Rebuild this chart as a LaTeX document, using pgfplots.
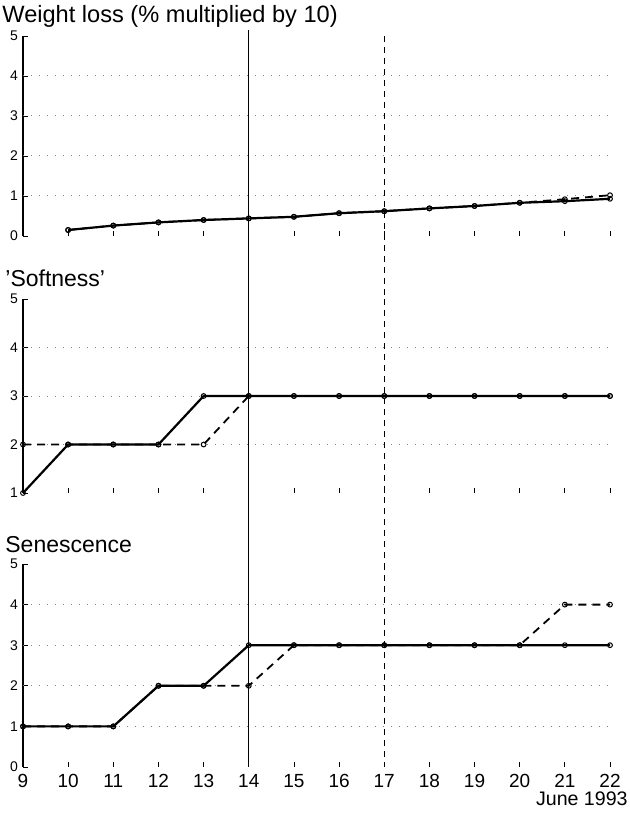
\documentclass[border=0pt]{standalone}
\usepackage{fontspec}
\setmainfont{Liberation Sans}
\usepackage{pgfplots}
\pgfplotsset{compat=1.18}
\pgfplotsset{
  panel/.style={
    scale only axis, width=293.5pt, xmin=9, xmax=22, clip=false,
    axis y line*=left, axis x line*=bottom,
    x axis line style={draw=none},
    y axis line style={line width=0.8pt},
    xtick={9,...,22}, ytick={0,...,5},
    tick align=inside, major tick length=2.5pt,
    tick style={black, line width=0.4pt},
    /pgf/number format/assume math mode=true,
    yticklabel style={font=\fontsize{7}{8}\selectfont, xshift=1pt},
    xticklabel style={font=\fontsize{9.5}{11}\selectfont},
    extra y ticks={1,2,3,4}, extra y tick labels={},
    extra y tick style={grid=major, major grid style={black!50, line width=0.5pt, dash pattern=on 0.6pt off 3.4pt}, major tick length=0pt},
    anchor=north west,
  },
  solidser/.style={black, line width=1.1pt, mark=o, mark size=1.2pt,
    mark options={solid, line width=0.5pt, fill=white}},
  dashser/.style={black, line width=0.9pt, dash pattern=on 4pt off 3pt, mark=o, mark size=1.2pt,
    mark options={solid, line width=0.5pt, fill=white}},
  vsolid/.style={black, line width=0.5pt, no marks},
  vdash/.style={black, line width=0.5pt, dash pattern=on 3pt off 2.5pt, no marks},
}
\begin{document}
\begin{tikzpicture}
\useasboundingbox (0,0) rectangle (315pt,-406.5pt);

% ---------- Weight loss ----------
\begin{axis}[panel, at={(11.5pt,-18pt)}, height=100pt, ymin=0, ymax=5, xticklabels={}]
\addplot[vsolid] coordinates {(14,5.15) (14,-1.6)};
\addplot[vdash] coordinates {(17,5) (17,-1.6)};
\addplot[dashser] coordinates {
(10,0.15) (11,0.26) (12,0.34) (13,0.40) (14,0.44) (15,0.48) (16,0.57)
(17,0.62) (18,0.69) (19,0.75) (20,0.83) (21,0.92) (22,1.02)};
\addplot[solidser] coordinates {
(10,0.15) (11,0.26) (12,0.34) (13,0.40) (14,0.44) (15,0.48) (16,0.57)
(17,0.62) (18,0.69) (19,0.75) (20,0.83) (21,0.87) (22,0.93)};
\end{axis}

% ---------- Softness ----------
\begin{axis}[panel, at={(11.5pt,-149.5pt)}, height=97pt, ymin=1, ymax=5, ytick={1,...,5},
  extra y ticks={2,3,4}, xticklabels={}]
\addplot[vsolid] coordinates {(14,5) (14,-0.47)};
\addplot[vdash] coordinates {(17,5) (17,-0.47)};
\addplot[dashser] coordinates {
(9,2) (10,2) (11,2) (12,2) (13,2) (14,3) (15,3) (16,3) (17,3) (18,3) (19,3) (20,3) (21,3) (22,3)};
\addplot[solidser] coordinates {
(9,1) (10,2) (11,2) (12,2) (13,3) (14,3) (15,3) (16,3) (17,3) (18,3) (19,3) (20,3) (21,3) (22,3)};
\end{axis}

% ---------- Senescence ----------
\begin{axis}[panel, at={(11.5pt,-282pt)}, height=101.5pt, ymin=0, ymax=5]
\addplot[vsolid] coordinates {(14,5) (14,0)};
\addplot[vdash] coordinates {(17,5) (17,0)};
\addplot[dashser] coordinates {
(9,1) (10,1) (11,1) (12,2) (13,2) (14,2) (15,3) (16,3) (17,3) (18,3) (19,3) (20,3) (21,4) (22,4)};
\addplot[solidser] coordinates {
(9,1) (10,1) (11,1) (12,2) (13,2) (14,3) (15,3) (16,3) (17,3) (18,3) (19,3) (20,3) (21,3) (22,3)};
\end{axis}

\node[anchor=base west, inner sep=0pt, font=\fontsize{11.8}{13}\selectfont] at (1pt,-11.5pt) {Weight loss (\% multiplied by 10)};
\node[anchor=base west, inner sep=0pt, font=\fontsize{11.5}{13}\selectfont] at (2.5pt,-143pt) {'Softness'};
\node[anchor=base west, inner sep=0pt, font=\fontsize{11.5}{13}\selectfont] at (2.5pt,-276pt) {Senescence};
\node[anchor=base east, inner sep=0pt, font=\fontsize{9.8}{11}\selectfont] at (314pt,-402.5pt) {June 1993};
\end{tikzpicture}
\end{document}
